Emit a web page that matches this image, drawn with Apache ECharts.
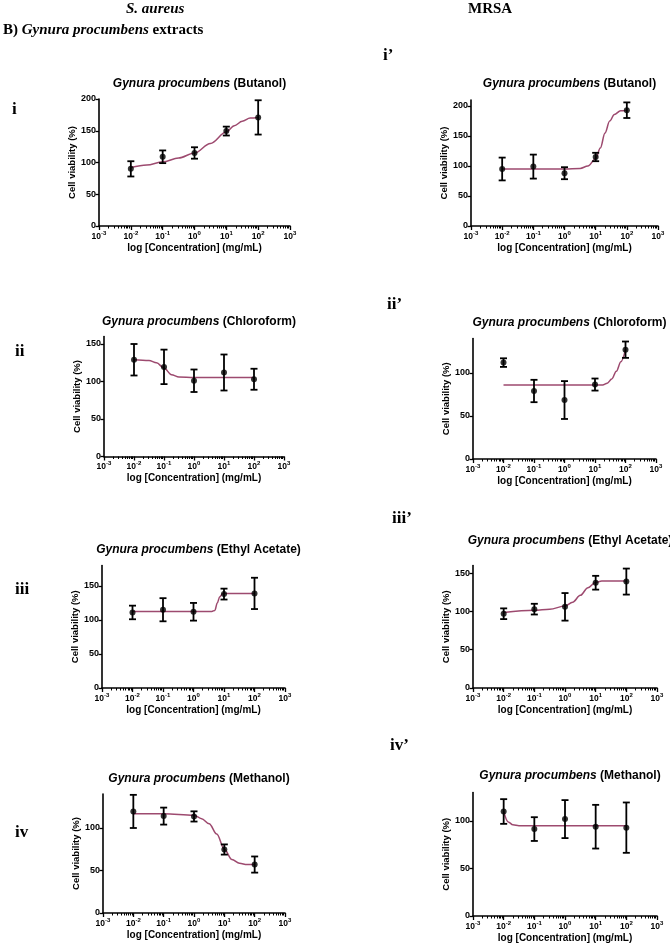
<!DOCTYPE html>
<html><head><meta charset="utf-8">
<script src="https://cdn.jsdelivr.net/npm/echarts@6/dist/echarts.min.js"></script>
<style>html,body{margin:0;padding:0;background:#fff}#c{width:670px;height:947px}</style>
</head><body><div id="c"></div>
<script>
// ---------- data ----------
const concentrations = [0.01, 0.1, 1, 10, 100]; // mg/mL
const xTickExponents = [-3, -2, -1, 0, 1, 2, 3];
const extracts = ['Butanol', 'Chloroform', 'Ethyl Acetate', 'Methanol'];
const panelLabels = ['i', 'ii', 'iii', 'iv', 'i\u2019', 'ii\u2019', 'iii\u2019', 'iv\u2019'];

// S. aureus
const saButanolMean = [90, 109, 115, 149.5, 171];
const saButanolErr = [12, 10, 9, 7, 27];
const saButanolCurveX = [-2, -1.5, -1, -0.5, 0, 0.5, 1, 1.25, 1.5, 1.75, 2];
const saButanolCurveY = [92, 96, 101, 107, 115, 130, 148, 158, 165, 170, 171];

const saChloroMean = [129, 119.5, 101, 112, 103];
const saChloroErr = [21, 23, 15, 24, 14];
const saChloroCurveX = [-2, -1.5, -1.25, -1, -0.75, -0.5, 0, 1, 2];
const saChloroCurveY = [129, 128, 125, 118, 109, 106, 105.5, 105.5, 105.5];

const saEthylMean = [111, 115, 112, 138, 139];
const saEthylErr = [10, 17, 13, 8, 23];
const saEthylCurveX = [-2, -1, 0, 0.6, 0.7, 0.78, 0.86, 0.95, 1.1, 2];
const saEthylCurveY = [112.5, 112.5, 112.5, 112.5, 114, 125, 134, 138.5, 139, 139];

const saMethMean = [119.5, 114, 113.6, 74.7, 57];
const saMethErr = [19.5, 10, 6, 6, 9.5];
const saMethCurveX = [-2, -1, 0, 0.25, 0.5, 0.75, 1, 1.25, 1.5, 1.75, 2];
const saMethCurveY = [116.7, 116.7, 115, 111, 105, 93, 75, 63, 58.4, 57, 57];

// MRSA
const mrButanolMean = [95, 99, 88, 115, 193];
const mrButanolErr = [19, 20, 10, 7, 13];
const mrButanolCurveX = [-2, -1, 0, 0.5, 0.75, 1, 1.15, 1.3, 1.45, 1.6, 1.8, 2];
const mrButanolCurveY = [95, 95, 95, 96, 100, 112, 130, 155, 175, 186, 192, 193];

const mrChloroMean = [112, 79, 68.5, 86.5, 127];
const mrChloroErr = [5, 13, 22, 7, 9.5];
const mrChloroCurveX = [-2, -1, 0, 1, 1.25, 1.4, 1.55, 1.7, 1.85, 2];
const mrChloroCurveY = [86, 86, 86, 86, 86, 88, 93, 102, 113, 127];

const mrEthylMean = [97, 103, 106, 137.5, 139];
const mrEthylErr = [7, 7, 18, 9, 17];
const mrEthylCurveX = [-2, -1, -0.5, 0, 0.25, 0.5, 0.75, 1, 1.2, 2];
const mrEthylCurveY = [98.6, 101.6, 103, 107, 112, 121, 131, 138, 139.6, 139.6];

const mrMethMean = [110, 91.5, 102, 94, 93];
const mrMethErr = [13, 12.5, 20, 23, 26.5];
const mrMethCurveX = [-2, -1.85, -1.7, -1.5, -1, 0, 1, 2];
const mrMethCurveY = [110, 99, 96, 95, 95, 95, 95, 95];

// y axis ranges and tick labels
const yMaxes = [200, 160, 180, 140, 210, 140, 160, 130];
const yTicks200 = [0, 50, 100, 150, 200];
const yTicks150 = [0, 50, 100, 150];
const yTicks100 = [0, 50, 100];

// ---------- layout (pixels) ----------
const panels = [
  {mean: saButanolMean, err: saButanolErr, cx: saButanolCurveX, cy: saButanolCurveY, name: extracts[0], yMax: yMaxes[0], yTicks: yTicks200,
   g: {left: 99, top: 99, width: 191, height: 127}, titleY: 73, lab: [12, 110]},
  {mean: saChloroMean, err: saChloroErr, cx: saChloroCurveX, cy: saChloroCurveY, name: extracts[1], yMax: yMaxes[1], yTicks: yTicks150,
   g: {left: 104, top: 336.5, width: 180, height: 120}, titleY: 311, lab: [15, 352]},
  {mean: saEthylMean, err: saEthylErr, cx: saEthylCurveX, cy: saEthylCurveY, name: extracts[2], yMax: yMaxes[2], yTicks: yTicks150,
   g: {left: 102, top: 565.5, width: 183, height: 122.5}, titleY: 539, lab: [15, 590]},
  {mean: saMethMean, err: saMethErr, cx: saMethCurveX, cy: saMethCurveY, name: extracts[3], yMax: yMaxes[3], yTicks: yTicks100,
   g: {left: 103, top: 794, width: 182, height: 119}, titleY: 768, lab: [15, 833]},
  {mean: mrButanolMean, err: mrButanolErr, cx: mrButanolCurveX, cy: mrButanolCurveY, name: extracts[0], yMax: yMaxes[4], yTicks: yTicks200,
   g: {left: 471, top: 100, width: 187, height: 126}, titleY: 73, lab: [383, 56]},
  {mean: mrChloroMean, err: mrChloroErr, cx: mrChloroCurveX, cy: mrChloroCurveY, name: extracts[1], yMax: yMaxes[5], yTicks: yTicks100,
   g: {left: 473, top: 338.5, width: 183, height: 120.5}, titleY: 312, lab: [387, 305]},
  {mean: mrEthylMean, err: mrEthylErr, cx: mrEthylCurveX, cy: mrEthylCurveY, name: extracts[2], yMax: yMaxes[6], yTicks: yTicks150,
   g: {left: 473, top: 565.5, width: 184, height: 122.5}, titleY: 530, lab: [392, 519]},
  {mean: mrMethMean, err: mrMethErr, cx: mrMethCurveX, cy: mrMethCurveY, name: extracts[3], yMax: yMaxes[7], yTicks: yTicks100,
   g: {left: 473, top: 792.5, width: 184, height: 123.5}, titleY: 765, lab: [390, 746]}
];

const FONT = 'Liberation Sans';
const SERIF = 'Liberation Serif';
const CURVE = '#9d4a6f';

const minorTicks = [];
for (let e = -3; e < 3; e++) for (let k = 2; k <= 9; k++) minorTicks.push(e + Math.log10(k));

function renderErr(params, api) {
  const x = api.value(0), lo = api.value(1), hi = api.value(2);
  const a = api.coord([x, hi]), b = api.coord([x, lo]);
  const w = 3.5;
  const st = {stroke: '#000', lineWidth: 1.8};
  return {type: 'group', children: [
    {type: 'line', shape: {x1: a[0], y1: a[1], x2: b[0], y2: b[1]}, style: st},
    {type: 'line', shape: {x1: a[0] - w, y1: a[1], x2: a[0] + w, y2: a[1]}, style: st},
    {type: 'line', shape: {x1: b[0] - w, y1: b[1], x2: b[0] + w, y2: b[1]}, style: st}
  ]};
}

const grid = [], xAxis = [], yAxis = [], series = [], title = [], graphic = [];
panels.forEach((p, i) => {
  grid.push(Object.assign({containLabel: false}, p.g));
  const cxCenter = p.g.left + p.g.width / 2;
  title.push({
    text: '{it|Gynura procumbens }{n|(' + p.name + ')}',
    left: cxCenter, top: p.titleY, textAlign: 'center',
    textStyle: {rich: {
      it: {fontFamily: FONT, fontSize: 12, fontWeight: 'bold', fontStyle: 'italic', color: '#000'},
      n: {fontFamily: FONT, fontSize: 12, fontWeight: 'bold', color: '#000'}
    }}
  });
  xAxis.push({
    type: 'value', gridIndex: i, min: -3, max: 3, interval: 1, position: 'bottom',
    name: 'log [Concentration] (mg/mL)', nameLocation: 'middle', nameGap: 17,
    nameTextStyle: {fontFamily: FONT, fontSize: 10, fontWeight: 'bold', color: '#000'},
    axisLine: {onZero: false, lineStyle: {color: '#000', width: 1.6}},
    axisTick: {show: true, length: 4, lineStyle: {color: '#000', width: 1.3}, customValues: xTickExponents},
    splitLine: {show: false},
    axisLabel: {
      margin: 4, customValues: xTickExponents,
      formatter: v => '{b|10}{s|' + v + '}',
      rich: {
        b: {fontFamily: FONT, fontSize: 8.5, fontWeight: 'bold', color: '#000', verticalAlign: 'bottom', lineHeight: 11},
        s: {fontFamily: FONT, fontSize: 6, fontWeight: 'bold', color: '#000', verticalAlign: 'top', lineHeight: 11}
      }
    }
  });
  xAxis.push({
    type: 'value', gridIndex: i, min: -3, max: 3, position: 'bottom', offset: 0,
    axisLine: {show: false, onZero: false}, splitLine: {show: false}, axisLabel: {show: false},
    axisTick: {show: true, length: 2.5, lineStyle: {color: '#000', width: 1}, customValues: minorTicks}
  });
  yAxis.push({
    type: 'value', gridIndex: i, min: 0, max: p.yMax, position: 'left',
    name: 'Cell viability (%)', nameLocation: 'middle', nameRotate: 90, nameGap: 22,
    nameTextStyle: {fontFamily: FONT, fontSize: 9.5, fontWeight: 'bold', color: '#000'},
    axisLine: {show: true, onZero: false, lineStyle: {color: '#000', width: 1.6}},
    axisTick: {show: true, length: 3.5, lineStyle: {color: '#000', width: 1.3}, customValues: p.yTicks},
    splitLine: {show: false},
    axisLabel: {customValues: p.yTicks, margin: 3, fontFamily: FONT, fontSize: 9, fontWeight: 'bold', color: '#000'}
  });
  const xs = concentrations.map(c => Math.log10(c));
  series.push({
    type: 'line', xAxisIndex: 2 * i, yAxisIndex: i, showSymbol: false, symbol: 'none',
    smooth: 0.35, smoothMonotone: 'x',
    lineStyle: {color: CURVE, width: 1.5},
    data: p.cx.map((x, j) => [x, p.cy[j]]), z: 2, silent: true
  });
  series.push({
    type: 'custom', xAxisIndex: 2 * i, yAxisIndex: i, renderItem: renderErr,
    data: xs.map((x, j) => [x, p.mean[j] - p.err[j], p.mean[j] + p.err[j]]), z: 3, silent: true
  });
  series.push({
    type: 'scatter', xAxisIndex: 2 * i, yAxisIndex: i, symbol: 'circle', symbolSize: 6,
    itemStyle: {color: '#000'}, data: xs.map((x, j) => [x, p.mean[j]]), z: 4, silent: true
  });
  graphic.push({type: 'text', left: p.lab[0], top: p.lab[1] - 9,
    style: {text: panelLabels[i], font: 'bold 17px "' + SERIF + '"', fill: '#000'}});
});

graphic.push({type: 'text', left: 126, top: 2,
  style: {text: 'S. aureus', font: 'italic bold 15px "' + SERIF + '"', fill: '#000'}});
graphic.push({type: 'text', left: 468, top: 2,
  style: {text: 'MRSA', font: 'bold 15px "' + SERIF + '"', fill: '#000'}});
graphic.push({type: 'text', left: 3, top: 23,
  style: {text: '{a|B) }{b|Gynura procumbens}{a| extracts}',
    rich: {a: {font: 'bold 15px "' + SERIF + '"', fill: '#000'}, b: {font: 'italic bold 15px "' + SERIF + '"', fill: '#000'}}}});

const chart = echarts.init(document.getElementById('c'), null, {renderer: 'canvas'});
chart.setOption({animation: false, backgroundColor: '#fff', title, grid, xAxis, yAxis, series, graphic});
</script></body></html>
